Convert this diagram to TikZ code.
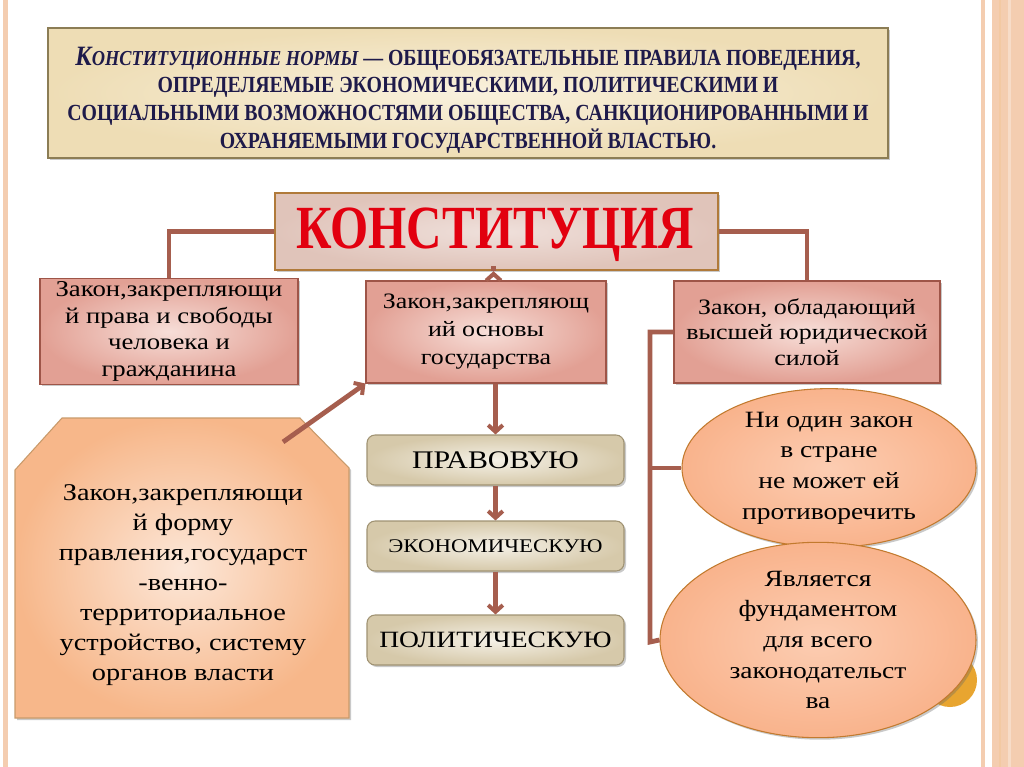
\documentclass[tikz,border=0pt]{standalone}
\usepackage{fontspec}
\setmainfont{Liberation Serif}
\newfontfamily\bodyfont[FakeStretch=1.18]{Liberation Serif}
\newfontfamily\titlefont[FakeStretch=0.86]{Liberation Serif}
\newfontfamily\konstfont[FakeStretch=0.8]{Liberation Serif}
\usetikzlibrary{shapes.geometric,arrows.meta,shadows,calc}
\definecolor{conn}{HTML}{A65E4E}
\definecolor{pinkout}{HTML}{E2A094}
\definecolor{pinkin}{HTML}{F7DED8}
\definecolor{pinkline}{HTML}{9E5548}
\definecolor{peachout}{HTML}{F7B78A}
\definecolor{peachin}{HTML}{FCE7D8}
\definecolor{peachline}{HTML}{C99A6A}
\definecolor{beigeout}{HTML}{D6C9AA}
\definecolor{beigein}{HTML}{F5F1E7}
\definecolor{beigeline}{HTML}{A09373}
\definecolor{ellout}{HTML}{F9B38C}
\definecolor{ellin}{HTML}{FCCDB2}
\definecolor{ellline}{HTML}{C27A2E}
\definecolor{topout}{HTML}{EEDDB5}
\definecolor{topin}{HTML}{F9F1DD}
\definecolor{topline}{HTML}{8C7D55}
\definecolor{titlecol}{HTML}{1E1A4A}
\definecolor{konstout}{HTML}{E0C4BA}
\definecolor{konstin}{HTML}{EFE0DB}
\definecolor{konstline}{HTML}{B07A3A}
\definecolor{konstred}{HTML}{E2000F}
\definecolor{stripe}{HTML}{F4CDB0}
\definecolor{stripedark}{HTML}{EDB27A}
\definecolor{goldcirc}{HTML}{E8A530}
\tikzset{
  shad/.style={drop shadow={shadow xshift=1.5pt,shadow yshift=-1.5pt,opacity=0.35,fill=black!60}},
  pinkbox/.style={rectangle,draw=pinkline,line width=0.8pt,shading=radial,inner color=pinkin,outer color=pinkout,shad,
    align=center,font=\fontsize{17}{20}\bodyfont,inner sep=2pt},
  beigebox/.style={rectangle,rounded corners=6pt,draw=beigeline,line width=0.8pt,shading=radial,inner color=beigein,outer color=beigeout,shad,
    minimum width=192.75pt,minimum height=37.5pt,align=center},
  ellbox/.style={ellipse,draw=ellline,line width=0.8pt,shading=radial,inner color=ellin,outer color=ellout,shad,
    align=center,font=\fontsize{17.5}{23}\bodyfont,inner sep=0pt},
  connline/.style={draw=conn,line width=3.6pt},
  connarrow/.style={draw=conn,line width=3.6pt,-{Straight Barb[length=5pt,width=11pt,line width=3pt]}},
}
\begin{document}
\begin{tikzpicture}[x=0.75pt,y=-0.75pt]
\useasboundingbox (0,0) rectangle (1024,767);
\fill[white] (0,0) rectangle (1024,767);
% side stripes
\fill[stripe] (3,0) rectangle (8,767);
\fill[stripe] (981,0) rectangle (985,767);
\fill[stripe] (992,0) rectangle (1024,767);
\fill[stripedark!70] (999,0) rectangle (1001,767);
\fill[stripe!70!white] (1008,0) rectangle (1011,767);

% top definition box
\node[rectangle,draw=topline,line width=0.8pt,shading=radial,inner color=topin,outer color=topout,shad,
      minimum width=630pt,minimum height=97.5pt] (defbox) at (468,93) {};
\node[text=titlecol,align=center,font=\fontsize{17.3}{20.8}\titlefont\bfseries] (deftext) at (468,100)
  {{\itshape{\fontsize{21}{20.8}\selectfont К}{\fontsize{16}{20.8}\selectfont ОНСТИТУЦИОННЫЕ НОРМЫ}} — ОБЩЕОБЯЗАТЕЛЬНЫЕ ПРАВИЛА ПОВЕДЕНИЯ,\\
   ОПРЕДЕЛЯЕМЫЕ ЭКОНОМИЧЕСКИМИ, ПОЛИТИЧЕСКИМИ И\\
   СОЦИАЛЬНЫМИ ВОЗМОЖНОСТЯМИ ОБЩЕСТВА, САНКЦИОНИРОВАННЫМИ И\\
   ОХРАНЯЕМЫМИ ГОСУДАРСТВЕННОЙ ВЛАСТЬЮ.};

% Constitution box
\node[rectangle,draw=konstline,line width=1.8pt,shading=radial,inner color=konstin,outer color=konstout,shad,
      minimum width=332.25pt,minimum height=57.75pt] (konst) at (496.5,231.5) {};
\node[text=konstred,font=\fontsize{46}{46}\konstfont\bfseries] (konsttext) at (495,235) {КОНСТИТУЦИЯ};

\node[pinkbox,minimum width=193.5pt,minimum height=77.25pt] (lbox) at (169,331.5)
  {Закон,закрепляющи\\й права и свободы\\человека и\\гражданина};
\node[pinkbox,minimum width=180pt,minimum height=76.5pt,font=\fontsize{16.5}{21}\bodyfont] (mbox) at (486,332)
  {Закон,закрепляющ\\ий основы\\государства};
\node[pinkbox,minimum width=199.5pt,minimum height=76.5pt,font=\fontsize{16.5}{19}\bodyfont] (rbox) at (807,332)
  {Закон, обладающий\\высшей юридической\\силой};

\draw[connline] (konst.west) -| (lbox.north);
\draw[connline] (konst.east) -| (rbox.north);
\draw[connarrow] ($(konst.south)+(-3,0)$) -- ($(konst.south)+(-3,0)$ |- mbox.north);

% left snipped box
\path[draw=peachline,line width=0.8pt,shading=radial,inner color=peachin,outer color=peachout,shad]
  (62,418) -- (300,418) -- (349,468) -- (349,718) -- (15,718) -- (15,470) -- cycle;
\node[align=center,font=\fontsize{18}{22.5}\bodyfont] (ltext) at (183,585)
  {Закон,закрепляющи\\й форму\\правления,государст\\-венно-\\территориальное\\устройство, систему\\органов власти};
\coordinate (diagstart) at (283,442);
\draw[connarrow] (diagstart) -- (mbox.south west);

% middle chain
\node[beigebox,font=\fontsize{19}{20}\bodyfont] (prav) at (495.5,460) {ПРАВОВУЮ};
\node[beigebox,font=\fontsize{14.5}{16}\bodyfont] (econ) at (495.5,546) {ЭКОНОМИЧЕСКУЮ};
\node[beigebox,font=\fontsize{17.5}{20}\bodyfont] (polit) at (495.5,640) {ПОЛИТИЧЕСКУЮ};
\draw[connarrow] (prav.north |- mbox.south) -- (prav.north);
\draw[connarrow] (prav.south) -- (econ.north);
\draw[connarrow] (econ.south) -- (polit.north);

% right bracket and ellipses
\fill[goldcirc] (950,680) circle[radius=27];
\coordinate (rtop) at (650,332);
\coordinate (rbot) at (650,642);
\node[ellbox,minimum width=220.5pt,minimum height=90pt] (e1) at (829,468)
  {Ни один закон\\в стране\\не может ей\\противоречить};
\node[ellbox,minimum width=237pt,minimum height=108pt] (e2) at (818,640)
  {Является\\фундаментом\\для всего\\законодательст\\ва};
\draw[connline] (rbox.west) -- (rtop) -- (rbot) -- (e2.west);
\draw[connline] (rtop |- e1.west) -- (e1.west);
\end{tikzpicture}
\end{document}
